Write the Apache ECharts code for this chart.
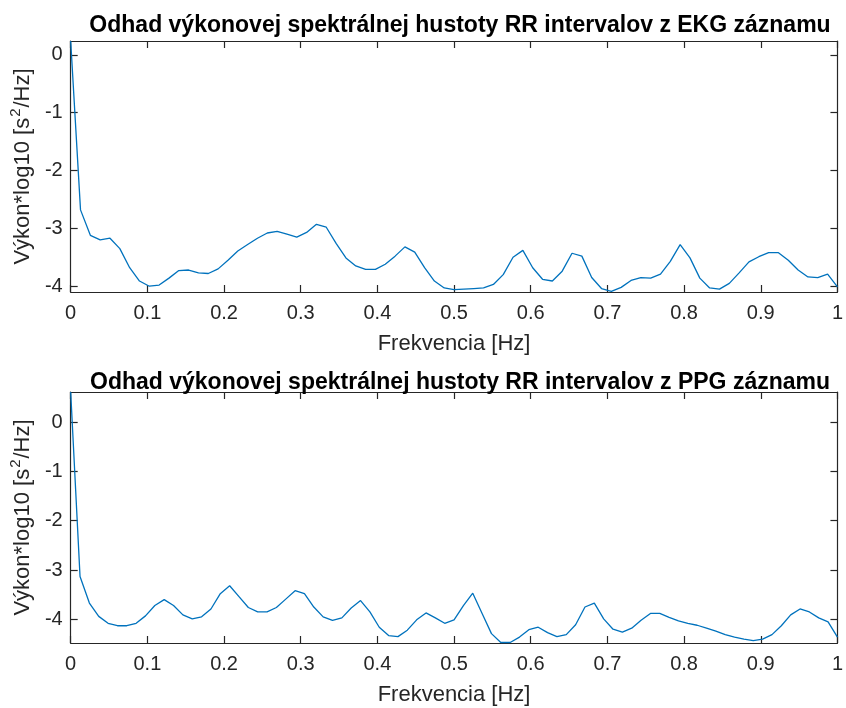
<!DOCTYPE html>
<html>
<head>
<meta charset="utf-8">
<script src="https://cdn.jsdelivr.net/npm/echarts@6/dist/echarts.min.js"></script>
<style>html,body{margin:0;padding:0;background:#fff;}#chart{width:846px;height:708px;}</style>
</head>
<body>
<div id="chart"></div>
<script>
const titleEKG = 'Odhad výkonovej spektrálnej hustoty RR intervalov z EKG záznamu';
const titlePPG = 'Odhad výkonovej spektrálnej hustoty RR intervalov z PPG záznamu';
const xLabel = 'Frekvencia [Hz]';
const yLabelParts = ['Výkon*log10 [s', '2', '/Hz]'];
const yTicks = [-4, -3, -2, -1, 0];
const xTicks = [0, 0.1, 0.2, 0.3, 0.4, 0.5, 0.6, 0.7, 0.8, 0.9, 1];
const ekgStep = 1 / 78;
const ppgStep = 1 / 82;
const ekgPsd = [0.24, -2.68, -3.12, -3.20, -3.17, -3.35, -3.68, -3.91, -4.00, -3.98,
  -3.86, -3.73, -3.72, -3.77, -3.78, -3.70, -3.55, -3.39, -3.28, -3.17,
  -3.08, -3.05, -3.10, -3.15, -3.07, -2.93, -2.98, -3.26, -3.51, -3.65,
  -3.71, -3.71, -3.62, -3.48, -3.32, -3.41, -3.68, -3.91, -4.03, -4.06,
  -4.05, -4.04, -4.03, -3.97, -3.80, -3.50, -3.38, -3.68, -3.88, -3.91,
  -3.74, -3.43, -3.48, -3.85, -4.04, -4.09, -4.02, -3.90, -3.85, -3.86,
  -3.79, -3.57, -3.28, -3.51, -3.86, -4.03, -4.05, -3.95, -3.77, -3.58,
  -3.49, -3.42, -3.42, -3.55, -3.72, -3.84, -3.85, -3.79, -4.01];
const ppgPsd = [0.61, -3.13, -3.67, -3.94, -4.08, -4.13, -4.13, -4.08, -3.93, -3.72,
  -3.60, -3.72, -3.91, -3.99, -3.95, -3.79, -3.48, -3.32, -3.54, -3.76,
  -3.85, -3.85, -3.76, -3.59, -3.42, -3.48, -3.75, -3.95, -4.02, -3.97,
  -3.77, -3.62, -3.85, -4.16, -4.33, -4.35, -4.22, -4.01, -3.87, -3.97,
  -4.08, -4.01, -3.72, -3.47, -3.88, -4.29, -4.47, -4.47, -4.36, -4.21,
  -4.16, -4.27, -4.35, -4.31, -4.11, -3.75, -3.67, -3.99, -4.20, -4.26,
  -4.18, -4.02, -3.88, -3.88, -3.96, -4.03, -4.08, -4.12, -4.18, -4.24,
  -4.31, -4.36, -4.40, -4.43, -4.40, -4.31, -4.13, -3.91, -3.79, -3.85,
  -3.97, -4.05, -4.36];
const ekgRange = [-4.1, 0.24];
const ppgRange = [-4.48, 0.61];

const FONT = 'Liberation Sans';
const AX = '#262626';
const chart = echarts.init(document.getElementById('chart'), null, {renderer: 'canvas'});

function xAx(gi, pos) {
  const main = pos === 'bottom';
  return {
    type: 'value', gridIndex: gi, position: pos, min: 0, max: 1,
    name: main ? xLabel : '', nameLocation: 'middle', nameGap: 41,
    nameTextStyle: {fontFamily: FONT, fontSize: 22, color: AX},
    axisLine: {show: true, onZero: false, lineStyle: {color: AX, width: 1.2}},
    axisTick: {show: true, inside: true, length: 7, customValues: xTicks, lineStyle: {color: AX, width: 1.2}},
    axisLabel: {show: main, customValues: xTicks, margin: 11, fontFamily: FONT, fontSize: 20, color: AX},
    splitLine: {show: false}
  };
}
function yAx(gi, pos, range) {
  const main = pos === 'left';
  return {
    type: 'value', gridIndex: gi, position: pos, min: range[0], max: range[1],
    name: main ? '{a|' + yLabelParts[0] + '}{b|' + yLabelParts[1] + '}{a|' + yLabelParts[2] + '}' : '',
    nameLocation: 'middle', nameGap: 30, nameRotate: 90,
    nameTextStyle: {fontFamily: FONT, fontSize: 22, color: AX,
      rich: {
        a: {fontFamily: FONT, fontSize: 22, color: AX, lineHeight: 26, verticalAlign: 'bottom'},
        b: {fontFamily: FONT, fontSize: 15, color: AX, lineHeight: 26, verticalAlign: 'top', padding: [0, 1, 0, 1]}
      }},
    axisLine: {show: true, onZero: false, lineStyle: {color: AX, width: 1.2}},
    axisTick: {show: true, inside: true, length: 7, customValues: yTicks, lineStyle: {color: AX, width: 1.2}},
    axisLabel: {show: main, customValues: yTicks, margin: 8, fontFamily: FONT, fontSize: 20, color: AX},
    splitLine: {show: false}
  };
}
function series(gi, step, vals) {
  return {
    type: 'line', xAxisIndex: gi * 2, yAxisIndex: gi * 2,
    data: vals.map((v, i) => [i * step, v]),
    showSymbol: false, symbol: 'none', animation: false,
    lineStyle: {color: '#0072BD', width: 1.3}
  };
}

chart.setOption({
  animation: false,
  title: [
    {text: titleEKG, left: 455, top: 9, textAlign: 'center',
     textStyle: {fontFamily: FONT, fontSize: 23, fontWeight: 'bold', color: '#000'}},
    {text: titlePPG, left: 455, top: 366, textAlign: 'center',
     textStyle: {fontFamily: FONT, fontSize: 23, fontWeight: 'bold', color: '#000'}}
  ],
  grid: [
    {left: 70, top: 41, width: 769, height: 251},
    {left: 70, top: 392, width: 769, height: 251}
  ],
  xAxis: [xAx(0, 'bottom'), xAx(0, 'top'), xAx(1, 'bottom'), xAx(1, 'top')],
  yAxis: [yAx(0, 'left', ekgRange), yAx(0, 'right', ekgRange), yAx(1, 'left', ppgRange), yAx(1, 'right', ppgRange)],
  series: [series(0, ekgStep, ekgPsd), series(1, ppgStep, ppgPsd)]
});
</script>
</body>
</html>
